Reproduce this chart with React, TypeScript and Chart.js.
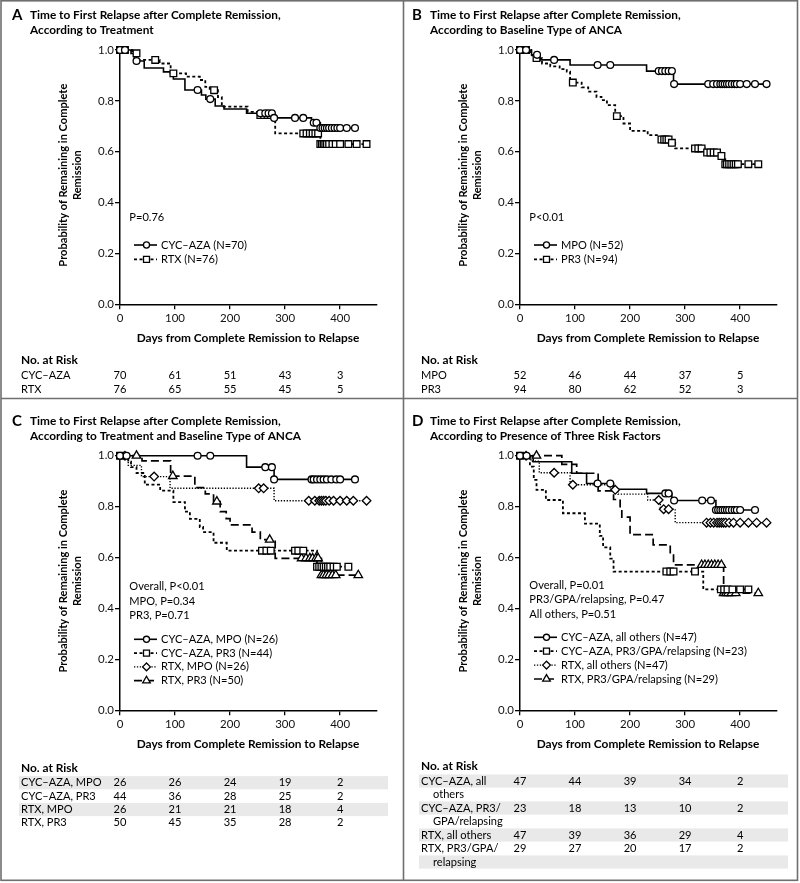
import React, { useEffect, useRef } from "react";
import { Chart, registerables } from "chart.js";

Chart.register(...registerables);

const FONT = "Lato, 'Noto Sans', sans-serif";
const PAGE_W = 800;
const PAGE_H = 883;
const X_MAX = 467;

const xTickValues = [0, 100, 200, 300, 400];
const yTickValues = [0, 0.2, 0.4, 0.6, 0.8, 1.0];
const yTitleLines = ["Probability of Remaining in Complete", "Remission"];
const xTitleText = "Days from Complete Remission to Relapse";
const riskHeader = "No. at Risk";

// ===== Panel A: by treatment =====
const aTitle = ["Time to First Relapse after Complete Remission,", "According to Treatment"];
const aPText = ["P=0.76"];
const aCycTimes = [0, 20, 26, 44, 79, 97, 118, 148, 156, 173, 189, 230, 280, 348, 364];
const aCycSurv = [1, 0.986, 0.957, 0.929, 0.914, 0.886, 0.843, 0.823, 0.807, 0.78, 0.768, 0.751, 0.733, 0.714, 0.693];
const aCycCens = [0, 9, 30, 141, 164, 255, 264, 270, 276, 280, 318, 333, 352, 357, 364, 368, 372, 376, 380, 385, 390, 395, 400, 412, 427];
const aRtxTimes = [0, 22, 32, 72, 92, 120, 145, 155, 163, 178, 185, 232, 250, 282, 364];
const aRtxSurv = [1, 0.987, 0.961, 0.947, 0.908, 0.895, 0.882, 0.855, 0.842, 0.815, 0.777, 0.757, 0.744, 0.672, 0.63];
const aRtxCens = [0, 9, 30, 64, 97, 171, 255, 262, 268, 274, 333, 339, 345, 350, 355, 360, 364, 367, 370, 373, 376, 380, 386, 392, 400, 415, 430, 448];
const aLabels = ["CYC–AZA (N=70)", "RTX (N=76)"];
const aRiskLabels = [["CYC–AZA"], ["RTX"]];
const aRiskCyc = [70, 61, 51, 43, 3];
const aRiskRtx = [76, 65, 55, 45, 5];

// ===== Panel B: by ANCA type =====
const bTitle = ["Time to First Relapse after Complete Remission,", "According to Baseline Type of ANCA"];
const bPText = ["P<0.01"];
const bMpoTimes = [0, 21, 36, 91, 230, 279];
const bMpoSurv = [1, 0.981, 0.961, 0.941, 0.917, 0.866];
const bMpoCens = [0, 11, 31, 62, 141, 164, 252, 258, 264, 270, 276, 280, 342, 351, 358, 364, 368, 372, 376, 380, 385, 390, 394, 400, 412, 427, 448];
const bPr3Times = [0, 20, 28, 40, 55, 72, 85, 91, 112, 124, 139, 148, 158, 173, 188, 200, 232, 253, 273, 282, 336, 364, 373];
const bPr3Surv = [1, 0.979, 0.968, 0.947, 0.936, 0.925, 0.915, 0.872, 0.853, 0.836, 0.816, 0.803, 0.783, 0.74, 0.711, 0.682, 0.665, 0.648, 0.635, 0.613, 0.597, 0.583, 0.551];
const bPr3Cens = [0, 11, 30, 96, 176, 257, 262, 266, 270, 276, 318, 324, 330, 340, 346, 352, 358, 366, 373, 376, 380, 384, 388, 392, 396, 415, 433];
const bLabels = ["MPO (N=52)", "PR3 (N=94)"];
const bRiskLabels = [["MPO"], ["PR3"]];
const bRiskMpo = [52, 46, 44, 37, 5];
const bRiskPr3 = [94, 80, 62, 52, 3];

// ===== Panel C: treatment x ANCA type =====
const cTitle = ["Time to First Relapse after Complete Remission,", "According to Treatment and Baseline Type of ANCA"];
const cPText = ["Overall, P<0.01", "MPO, P=0.34", "PR3, P=0.71"];
const cCmTimes = [0, 230, 280];
const cCmSurv = [1, 0.955, 0.907];
const cCmCens = [0, 12, 141, 164, 264, 276, 280, 348, 352, 358, 364, 370, 376, 384, 393, 400, 427];
const cCpTimes = [0, 15, 20, 30, 45, 73, 97, 118, 127, 145, 151, 170, 194, 358];
const cCpSurv = [1, 0.977, 0.955, 0.932, 0.886, 0.863, 0.818, 0.78, 0.752, 0.72, 0.7, 0.658, 0.627, 0.564];
const cCpCens = [0, 258, 266, 274, 318, 324, 333, 358, 362, 366, 370, 374, 378, 382, 388, 394, 415];
const cRmTimes = [0, 15, 39, 91, 280];
const cRmSurv = [1, 0.962, 0.918, 0.872, 0.823];
const cRmCens = [9, 62, 252, 261, 343, 354, 362, 366, 370, 374, 380, 388, 400, 412, 424, 448];
const cRpTimes = [0, 40, 92, 136, 155, 170, 182, 193, 200, 240, 255, 282, 366];
const cRpSurv = [1, 0.98, 0.92, 0.875, 0.85, 0.82, 0.78, 0.753, 0.728, 0.7, 0.67, 0.597, 0.531];
const cRpCens = [30, 96, 176, 272, 330, 338, 345, 350, 356, 360, 366, 370, 375, 380, 386, 392, 433];
const cLabels = ["CYC–AZA, MPO (N=26)", "CYC–AZA, PR3 (N=44)", "RTX, MPO (N=26)", "RTX, PR3 (N=50)"];
const cRiskLabels = [["CYC–AZA, MPO"], ["CYC–AZA, PR3"], ["RTX, MPO"], ["RTX, PR3"]];
const cRiskCm = [26, 26, 24, 19, 2];
const cRiskCp = [44, 36, 28, 25, 2];
const cRiskRm = [26, 21, 21, 18, 4];
const cRiskRp = [50, 45, 35, 28, 2];

// ===== Panel D: three risk factors =====
const dTitle = ["Time to First Relapse after Complete Remission,", "According to Presence of Three Risk Factors"];
const dPText = ["Overall, P=0.01", "PR3/GPA/relapsing, P=0.47", "All others, P=0.51"];
const dCoTimes = [0, 24, 94, 121, 170, 230, 276, 356];
const dCoSurv = [1, 0.976, 0.931, 0.891, 0.868, 0.852, 0.824, 0.787];
const dCoCens = [0, 12, 141, 164, 264, 270, 280, 331, 347, 356, 360, 364, 368, 372, 376, 380, 385, 390, 394, 400, 427];
const dCpTimes = [0, 18, 25, 30, 47, 78, 118, 145, 151, 164, 170, 333];
const dCpSurv = [1, 0.957, 0.905, 0.866, 0.826, 0.774, 0.733, 0.685, 0.64, 0.596, 0.545, 0.475];
const dCpCens = [0, 266, 273, 279, 318, 365, 371, 377, 386, 400, 415];
const dRoTimes = [0, 20, 35, 91, 164, 178, 232, 255, 282];
const dRoSurv = [1, 0.978, 0.933, 0.886, 0.866, 0.849, 0.826, 0.79, 0.737];
const dRoCens = [11, 62, 96, 173, 252, 261, 270, 339, 346, 352, 358, 362, 366, 370, 374, 380, 388, 400, 415, 430, 448];
const dRpTimes = [0, 76, 103, 142, 170, 182, 185, 200, 242, 273, 279, 370];
const dRpSurv = [1, 0.966, 0.931, 0.862, 0.828, 0.793, 0.759, 0.69, 0.65, 0.61, 0.571, 0.46];
const dRpCens = [30, 330, 336, 342, 348, 354, 360, 366, 370, 374, 378, 384, 392, 433];
const dLabels = ["CYC–AZA, all others (N=47)", "CYC–AZA, PR3/GPA/relapsing (N=23)", "RTX, all others (N=47)", "RTX, PR3/GPA/relapsing (N=29)"];
const dRiskLabels = [["CYC–AZA, all", "others"], ["CYC–AZA, PR3/", "GPA/relapsing"], ["RTX, all others"], ["RTX, PR3/GPA/", "relapsing"]];
const dRiskCo = [47, 44, 39, 34, 2];
const dRiskCp = [23, 18, 13, 10, 2];
const dRiskRo = [47, 39, 36, 29, 4];
const dRiskRp = [29, 27, 20, 17, 2];

// ===== font sizing (fit reference text widths) =====
function fitSize(text: string, weight: string, target: number) {
  const c = document.createElement("canvas");
  const ctx = c.getContext("2d") as CanvasRenderingContext2D;
  ctx.font = `${weight} 100px ${FONT}`;
  const w = ctx.measureText(text).width;
  return w > 0 ? (100 * target) / w : 12;
}
const SZ = {
  reg: fitSize("CYC–AZA (N=70)", "normal", 86),
  title: fitSize("Time to First Relapse after Complete Remission,", "bold", 251),
  axis: fitSize("Days from Complete Remission to Relapse", "bold", 223),
  ytitle: fitSize("Probability of Remaining in Complete", "bold", 183),
  head: fitSize("No. at Risk", "bold", 57),
  tick: fitSize("0.8", "normal", 16),
};

// ===== styles =====
type Marker = "circle" | "rect" | "rectRot" | "triangle";
type Style = { dash: number[]; width: number; marker: Marker; r: number };
const S_SOLID_CIRCLE: Style = { dash: [], width: 1.6, marker: "circle", r: 3.4 };
const S_SHORT_SQUARE: Style = { dash: [3, 2.5], width: 1.8, marker: "rect", r: 4.7 };
const S_DOT_DIAMOND: Style = { dash: [1.3, 1.6], width: 1.4, marker: "rectRot", r: 4.3 };
const S_LONG_TRIANGLE: Style = { dash: [8, 4], width: 1.7, marker: "triangle", r: 4.9 };

type Series = { label: string; times: number[]; surv: number[]; cens: number[]; style: Style };
type Panel = {
  letter: string;
  title: string[];
  pText: string[];
  series: Series[];
  riskLabels: string[][];
  riskValues: number[][];
  left: number;
  right: number;
  top: number;
  bottom: number;
  pY: number;
  pStep: number;
  legY: number;
  legStep: number;
  riskY: number;
  riskStep: number;
  bands: boolean;
  frame: boolean;
};

const panels: Panel[] = [
  {
    letter: "A", title: aTitle, pText: aPText,
    series: [
      { label: aLabels[0], times: aCycTimes, surv: aCycSurv, cens: aCycCens, style: S_SOLID_CIRCLE },
      { label: aLabels[1], times: aRtxTimes, surv: aRtxSurv, cens: aRtxCens, style: S_SHORT_SQUARE },
    ],
    riskLabels: aRiskLabels, riskValues: [aRiskCyc, aRiskRtx],
    left: 120, right: 377, top: 50, bottom: 304.3,
    pY: 217.3, pStep: 14.5, legY: 245, legStep: 14.3, riskY: 360, riskStep: 14.5, bands: false, frame: true,
  },
  {
    letter: "B", title: bTitle, pText: bPText,
    series: [
      { label: bLabels[0], times: bMpoTimes, surv: bMpoSurv, cens: bMpoCens, style: S_SOLID_CIRCLE },
      { label: bLabels[1], times: bPr3Times, surv: bPr3Surv, cens: bPr3Cens, style: S_SHORT_SQUARE },
    ],
    riskLabels: bRiskLabels, riskValues: [bRiskMpo, bRiskPr3],
    left: 520, right: 777, top: 50, bottom: 304.3,
    pY: 217.3, pStep: 14.5, legY: 245, legStep: 14.3, riskY: 360, riskStep: 14.5, bands: false, frame: false,
  },
  {
    letter: "C", title: cTitle, pText: cPText,
    series: [
      { label: cLabels[0], times: cCmTimes, surv: cCmSurv, cens: cCmCens, style: S_SOLID_CIRCLE },
      { label: cLabels[1], times: cCpTimes, surv: cCpSurv, cens: cCpCens, style: S_SHORT_SQUARE },
      { label: cLabels[2], times: cRmTimes, surv: cRmSurv, cens: cRmCens, style: S_DOT_DIAMOND },
      { label: cLabels[3], times: cRpTimes, surv: cRpSurv, cens: cRpCens, style: S_LONG_TRIANGLE },
    ],
    riskLabels: cRiskLabels, riskValues: [cRiskCm, cRiskCp, cRiskRm, cRiskRp],
    left: 120, right: 377, top: 455.7, bottom: 710.3,
    pY: 586.7, pStep: 14.5, legY: 639.3, legStep: 13.8, riskY: 767.7, riskStep: 13.4, bands: true, frame: false,
  },
  {
    letter: "D", title: dTitle, pText: dPText,
    series: [
      { label: dLabels[0], times: dCoTimes, surv: dCoSurv, cens: dCoCens, style: S_SOLID_CIRCLE },
      { label: dLabels[1], times: dCpTimes, surv: dCpSurv, cens: dCpCens, style: S_SHORT_SQUARE },
      { label: dLabels[2], times: dRoTimes, surv: dRoSurv, cens: dRoCens, style: S_DOT_DIAMOND },
      { label: dLabels[3], times: dRpTimes, surv: dRpSurv, cens: dRpCens, style: S_LONG_TRIANGLE },
    ],
    riskLabels: dRiskLabels, riskValues: [dRiskCo, dRiskCp, dRiskRo, dRiskRp],
    left: 520, right: 777, top: 455.7, bottom: 710.3,
    pY: 585.7, pStep: 14.2, legY: 637.3, legStep: 13.9, riskY: 766, riskStep: 13.5, bands: true, frame: false,
  },
];

const Y_SCALE_W = 40;
const X_SCALE_H = 30;

function survAt(times: number[], surv: number[], t: number) {
  let v = surv[0];
  for (let i = 0; i < times.length; i++) if (times[i] <= t) v = surv[i];
  return v;
}

function drawMarker(ctx: CanvasRenderingContext2D, m: Marker, x: number, y: number, r: number) {
  ctx.beginPath();
  if (m === "circle") {
    ctx.arc(x, y, r, 0, Math.PI * 2);
  } else if (m === "rect") {
    const s = Math.SQRT1_2 * r;
    ctx.rect(x - s, y - s, 2 * s, 2 * s);
  } else if (m === "rectRot") {
    ctx.moveTo(x - r, y);
    ctx.lineTo(x, y - r);
    ctx.lineTo(x + r, y);
    ctx.lineTo(x, y + r);
    ctx.closePath();
  } else {
    ctx.moveTo(x, y - r);
    ctx.lineTo(x + 0.866 * r, y + 0.5 * r);
    ctx.lineTo(x - 0.866 * r, y + 0.5 * r);
    ctx.closePath();
  }
  ctx.fillStyle = "#fff";
  ctx.fill();
  ctx.setLineDash([]);
  ctx.lineWidth = 1.3;
  ctx.strokeStyle = "#000";
  ctx.stroke();
}

function decoPlugin(p: Panel) {
  return {
    id: "deco" + p.letter,
    afterDraw(chart: any) {
      const ctx: CanvasRenderingContext2D = chart.ctx;
      const xs = chart.scales.x;
      ctx.save();
      ctx.textBaseline = "middle";
      ctx.fillStyle = "#000";

      if (p.frame) {
        ctx.strokeStyle = "#6f6f6f";
        ctx.lineWidth = 1.6;
        ctx.strokeRect(1, 0.8, 796.5, 879.5);
        ctx.beginPath();
        ctx.moveTo(403.5, 0.8);
        ctx.lineTo(403.5, 880.3);
        ctx.moveTo(1, 398.5);
        ctx.lineTo(797.5, 398.5);
        ctx.stroke();
      }

      // letter + title
      ctx.textAlign = "left";
      ctx.font = `bold 15px ${FONT}`;
      ctx.fillText(p.letter, p.left - 108, p.top - 35);
      ctx.font = `bold ${SZ.title}px ${FONT}`;
      ctx.fillText(p.title[0], p.left - 90, p.top - 35);
      ctx.fillText(p.title[1], p.left - 90, p.top - 20);

      // y-axis title
      ctx.font = `bold ${SZ.ytitle}px ${FONT}`;
      ctx.textAlign = "center";
      const cy = (p.top + p.bottom) / 2 - 2;
      ctx.save();
      ctx.translate(p.left - 56.7, cy);
      ctx.rotate(-Math.PI / 2);
      ctx.fillText(yTitleLines[0], 0, 0);
      ctx.restore();
      ctx.save();
      ctx.translate(p.left - 42.3, cy);
      ctx.rotate(-Math.PI / 2);
      ctx.fillText(yTitleLines[1], 0, 0);
      ctx.restore();

      // x-axis title
      ctx.font = `bold ${SZ.axis}px ${FONT}`;
      ctx.fillText(xTitleText, p.left + 128, p.bottom + 34);

      // p values
      ctx.font = `${SZ.reg}px ${FONT}`;
      ctx.textAlign = "left";
      p.pText.forEach((t, i) => ctx.fillText(t, p.left + 9.3, p.pY + i * p.pStep));

      // legend
      p.series.forEach((s, i) => {
        const y = p.legY + i * p.legStep;
        ctx.beginPath();
        ctx.setLineDash(s.style.dash);
        ctx.lineWidth = s.style.width;
        ctx.strokeStyle = "#000";
        ctx.moveTo(p.left + 14, y);
        ctx.lineTo(p.left + 37, y);
        ctx.stroke();
        drawMarker(ctx, s.style.marker, p.left + 26.5, y, s.style.r * 0.9);
        ctx.fillStyle = "#000";
        ctx.font = `${SZ.reg}px ${FONT}`;
        ctx.textAlign = "left";
        ctx.fillText(s.label, p.left + 41, y);
      });

      // risk table
      const labelX = p.left - 99;
      ctx.font = `bold ${SZ.head}px ${FONT}`;
      ctx.textAlign = "left";
      ctx.fillText(riskHeader, labelX, p.riskY);
      const firstY = p.riskY + 15;
      if (p.bands) {
        let total = 0;
        p.riskLabels.forEach((l) => (total += l.length));
        ctx.fillStyle = "#e9e9e9";
        for (let k = 0; k < total; k += 2) {
          const y = firstY + k * p.riskStep;
          ctx.fillRect(p.left - 101, y - 6.6, 369, 13.2);
        }
        ctx.fillStyle = "#000";
      }
      ctx.font = `${SZ.reg}px ${FONT}`;
      let line = 0;
      p.riskLabels.forEach((labels, r) => {
        const y0 = firstY + line * p.riskStep;
        labels.forEach((lab, j) => {
          ctx.textAlign = "left";
          ctx.fillText(lab, labelX + (j > 0 ? 12 : 0), firstY + (line + j) * p.riskStep);
        });
        ctx.textAlign = "center";
        p.riskValues[r].forEach((v, k) => {
          ctx.fillText(String(v), xs.getPixelForValue(xTickValues[k]), y0);
        });
        line += labels.length;
      });
      ctx.restore();
    },
  };
}

function makeConfig(p: Panel): any {
  const datasets: any[] = [];
  p.series.forEach((s) => {
    const lastT = Math.max(s.times[s.times.length - 1], ...s.cens);
    const linePts = s.times.map((t, i) => ({ x: t, y: s.surv[i] }));
    linePts.push({ x: lastT, y: s.surv[s.surv.length - 1] });
    const censPts = s.cens.map((t) => ({ x: t, y: survAt(s.times, s.surv, t) }));
    datasets.push({
      label: s.label + " censored",
      data: censPts,
      showLine: false,
      pointStyle: s.style.marker,
      pointRadius: s.style.r,
      pointBackgroundColor: "#fff",
      pointBorderColor: "#000",
      pointBorderWidth: 1.3,
      order: 0,
      clip: false,
    });
    datasets.push({
      label: s.label,
      data: linePts,
      stepped: true,
      borderColor: "#000",
      borderWidth: s.style.width,
      borderDash: s.style.dash,
      pointRadius: 0,
      fill: false,
      order: 1,
      clip: false,
    });
  });

  const gridOpts = { display: true, drawOnChartArea: false, drawTicks: true, tickLength: 5, color: "#000", lineWidth: 1.3 };
  const borderOpts = { display: true, color: "#000", width: 1.5 };

  return {
    type: "line",
    data: { datasets },
    options: {
      responsive: false,
      maintainAspectRatio: false,
      animation: false,
      events: [],
      layout: {
        padding: {
          left: p.left - Y_SCALE_W,
          top: p.top,
          right: PAGE_W - p.right,
          bottom: PAGE_H - p.bottom - X_SCALE_H,
        },
      },
      plugins: { legend: { display: false }, tooltip: { enabled: false }, title: { display: false } },
      scales: {
        x: {
          type: "linear",
          display: true,
          min: 0,
          max: X_MAX,
          grid: gridOpts,
          border: borderOpts,
          afterBuildTicks: (s: any) => {
            s.ticks = xTickValues.map((v) => ({ value: v }));
          },
          afterFit: (s: any) => {
            s.height = X_SCALE_H;
          },
          ticks: {
            font: { family: FONT, size: SZ.tick },
            color: "#111",
            padding: 2,
            maxRotation: 0,
            autoSkip: false,
            callback: (v: any) => String(v),
          },
        },
        y: {
          type: "linear",
          display: true,
          min: 0,
          max: 1,
          grid: gridOpts,
          border: borderOpts,
          afterBuildTicks: (s: any) => {
            s.ticks = yTickValues.map((v) => ({ value: v }));
          },
          afterFit: (s: any) => {
            s.width = Y_SCALE_W;
          },
          ticks: {
            font: { family: FONT, size: SZ.tick },
            color: "#111",
            padding: 1,
            autoSkip: false,
            callback: (v: any) => Number(v).toFixed(1),
          },
        },
      },
    },
    plugins: [decoPlugin(p)],
  };
}

function PanelCanvas({ panel }: { panel: Panel }) {
  const ref = useRef<HTMLCanvasElement>(null);
  useEffect(() => {
    const chart = new Chart(ref.current as HTMLCanvasElement, makeConfig(panel));
    return () => chart.destroy();
  }, [panel]);
  return (
    <canvas
      ref={ref}
      width={PAGE_W}
      height={PAGE_H}
      style={{ position: "absolute", left: 0, top: 0, width: PAGE_W, height: PAGE_H }}
    />
  );
}

export default function App() {
  return (
    <div style={{ position: "absolute", left: 0, top: 0, width: PAGE_W, height: PAGE_H, background: "#fff", overflow: "hidden" }}>
      {panels.map((p) => (
        <PanelCanvas key={p.letter} panel={p} />
      ))}
    </div>
  );
}
